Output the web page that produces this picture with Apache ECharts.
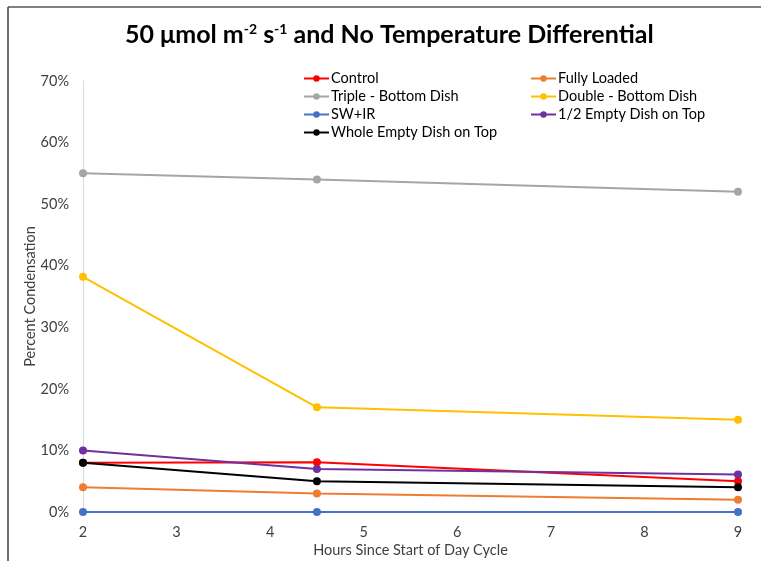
<!DOCTYPE html>
<html>
<head>
<meta charset="utf-8">
<script src="https://cdn.jsdelivr.net/npm/echarts@6/dist/echarts.min.js"></script>
<style>
  html, body { margin: 0; padding: 0; background: #fff; }
  #main { width: 761px; height: 561px; }
</style>
</head>
<body>
<div id="main"></div>
<script>
// 横轴：小时
var hours = [2, 4.5, 9];
// 各组数据（%）
var control = [8, 8.1, 5];
var fullyLoaded = [4, 3, 2];
var tripleBottom = [55, 54, 52];
var doubleBottom = [38.2, 17, 15];
var swIr = [0, 0, 0];
var halfEmptyTop = [10, 7, 6.1];
var wholeEmptyTop = [8, 5, 4];

var seriesNames = ['Control', 'Fully Loaded', 'Triple - Bottom Dish', 'Double - Bottom Dish', 'SW+IR', '1/2 Empty Dish on Top', 'Whole Empty Dish on Top'];
var seriesData = [control, fullyLoaded, tripleBottom, doubleBottom, swIr, halfEmptyTop, wholeEmptyTop];
var colors = ['#FF0000', '#ED7D31', '#A5A5A5', '#FFC000', '#4472C4', '#7030A0', '#000000'];

var font = 'Lato, "Open Sans", sans-serif';

function pairs(arr) {
	var out = [];
	for (var i = 0; i < hours.length; i++) {
		out.push([hours[i], arr[i]]);
	}
	return out;
}

var series = [];
for (var i = 0; i < seriesNames.length; i++) {
	series.push({
		name: seriesNames[i],
		type: 'line',
		data: pairs(seriesData[i]),
		symbol: 'circle',
		symbolSize: 8,
		lineStyle: { width: 2, color: colors[i] },
		itemStyle: { color: colors[i] },
		animation: false
	});
}

var legendCommon = {
	orient: 'vertical',
	itemGap: 3,
	itemWidth: 25,
	itemHeight: 8,
	textStyle: { fontFamily: font, fontSize: 14.5, color: '#000', padding: [0, 0, 0, -3] }
};

var myChart = echarts.init(document.getElementById('main'));
var option = {
	backgroundColor: '#fff',
	color: colors,
	title: {
		text: '{a|50 μmol m}{s|-2}{a| s}{s|-1}{a| and No Temperature Differential}',
		left: 120,
		top: 17,
		textStyle: {
			rich: {
				a: { fontFamily: font, fontWeight: 'bold', fontSize: 25, color: '#000' },
				s: { fontFamily: font, fontWeight: 'bold', fontSize: 14, color: '#000', padding: [0, 0, 10, 0] }
			}
		}
	},
	legend: [
		Object.assign({}, legendCommon, {
			left: 298, top: 66,
			data: ['Control', 'Triple - Bottom Dish', 'SW+IR', 'Whole Empty Dish on Top']
		}),
		Object.assign({}, legendCommon, {
			left: 525, top: 66,
			data: ['Fully Loaded', 'Double - Bottom Dish', '1/2 Empty Dish on Top']
		})
	],
	grid: { left: 83, right: 23, top: 81, bottom: 49, outerBoundsMode: 'none' },
	xAxis: {
		type: 'value',
		min: 2, max: 9, interval: 1,
		name: 'Hours Since Start of Day Cycle',
		nameLocation: 'middle',
		nameGap: 31,
		nameMoveOverlap: false,
		nameTextStyle: { fontFamily: font, fontSize: 14.5, color: '#404040' },
		axisLine: { lineStyle: { color: '#D9D9D9' } },
		axisTick: { show: false },
		splitLine: { show: false },
		axisLabel: { fontFamily: font, fontSize: 14.5, color: '#404040', margin: 13 }
	},
	yAxis: {
		type: 'value',
		min: 0, max: 70, interval: 10,
		name: 'Percent Condensation',
		nameLocation: 'middle',
		nameGap: 45,
		nameMoveOverlap: false,
		nameTextStyle: { fontFamily: font, fontSize: 14.5, color: '#404040' },
		axisLine: { show: true, lineStyle: { color: '#D9D9D9' } },
		axisTick: { show: false },
		splitLine: { show: false },
		axisLabel: { fontFamily: font, fontSize: 14.5, color: '#404040', margin: 14, formatter: '{value}%' }
	},
	graphic: [
		{ type: 'line', shape: { x1: 8, y1: 7, x2: 761, y2: 7 }, style: { stroke: '#808080', lineWidth: 2 } },
		{ type: 'line', shape: { x1: 8, y1: 7, x2: 8, y2: 561 }, style: { stroke: '#404040', lineWidth: 1.5 } }
	],
	series: series
};
myChart.setOption(option);
</script>
</body>
</html>
